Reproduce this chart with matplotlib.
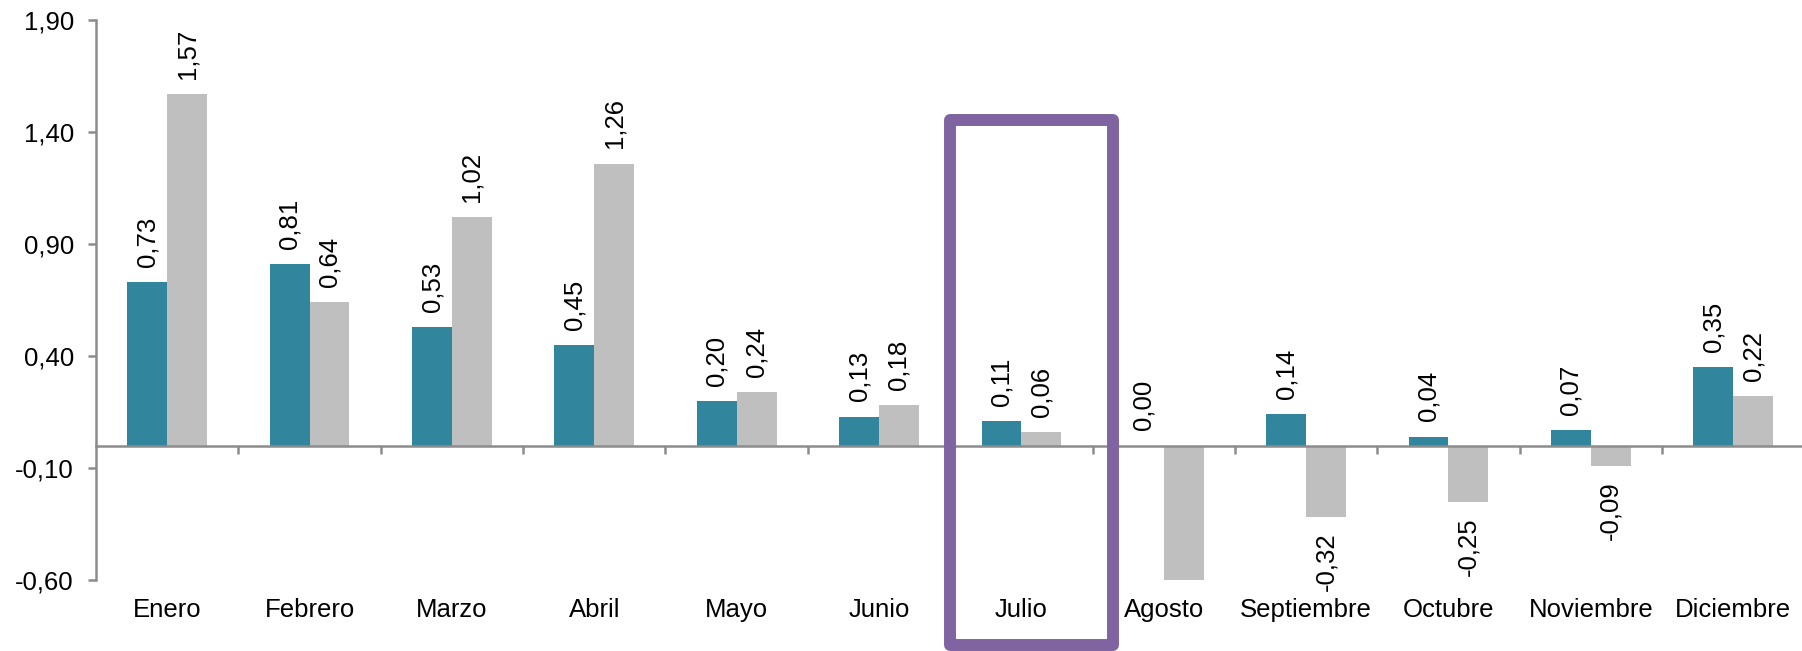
import matplotlib.pyplot as plt
from matplotlib.patches import Rectangle
from matplotlib.transforms import blended_transform_factory
import numpy as np

plt.rcParams['font.family'] = ['Liberation Sans', 'DejaVu Sans']

meses = ['Enero', 'Febrero', 'Marzo', 'Abril', 'Mayo', 'Junio', 'Julio',
         'Agosto', 'Septiembre', 'Octubre', 'Noviembre', 'Diciembre']
serie_a = [0.73, 0.81, 0.53, 0.45, 0.20, 0.13, 0.11, 0.00, 0.14, 0.04, 0.07, 0.35]
serie_b = [1.57, 0.64, 1.02, 1.26, 0.24, 0.18, 0.06, -0.61, -0.32, -0.25, -0.09, 0.22]
yticks = [-0.60, -0.10, 0.40, 0.90, 1.40, 1.90]

TEAL = '#31859C'
GREY = '#BFBFBF'
PURPLE = '#8064A2'
AXIS = '#8C8C8C'
FS = 18.5

fig = plt.figure(figsize=(18.02, 6.51), dpi=100)
ax = fig.add_axes([0.0533, 0.109, 0.948, 0.860])

x = np.arange(len(meses))
w = 0.28
ax.bar(x - w / 2, serie_a, w, color=TEAL)
ax.bar(x + w / 2, serie_b, w, color=GREY)

ax.set_xlim(-0.5, 11.5)
ax.set_ylim(-0.60, 1.90)


def fmt(v):
    return f'{v:.2f}'.replace('.', ',')


# rotated value labels
for xs, vals in ((x - w / 2, serie_a), (x + w / 2, serie_b)):
    for xi, v in zip(xs, vals):
        if v < -0.60:
            continue
        off = 11 if v >= 0 else -11
        ax.annotate(fmt(v), (xi, v), xytext=(0, off), textcoords='offset points',
                    rotation=90, ha='center', va='bottom' if v >= 0 else 'top',
                    fontsize=FS)

# axes styling
for s in ('top', 'right'):
    ax.spines[s].set_visible(False)
ax.spines['bottom'].set_position(('data', 0))
for s in ('bottom', 'left'):
    ax.spines[s].set_color(AXIS)
    ax.spines[s].set_linewidth(1.8)

ax.set_yticks(yticks)
ax.set_yticklabels([fmt(v) for v in yticks], fontsize=FS)
ax.tick_params(axis='y', length=6, width=1.8, color=AXIS, pad=10)

ax.set_xticks(np.arange(0.5, 11, 1))
ax.set_xticklabels([])
ax.tick_params(axis='x', length=6, width=1.8, color=AXIS)

trans = blended_transform_factory(ax.transData, ax.transAxes)
for xi, m in zip(x, meses):
    ax.text(xi, -0.054, m, transform=trans, ha='center', va='center', fontsize=FS)

# highlight box around Julio
box = Rectangle((950 / 1802, 6 / 651), 163 / 1802, 525 / 651, transform=fig.transFigure,
                fill=False, edgecolor=PURPLE, linewidth=8.6, joinstyle='round')
fig.add_artist(box)

fig.savefig('out.png', dpi=100)
